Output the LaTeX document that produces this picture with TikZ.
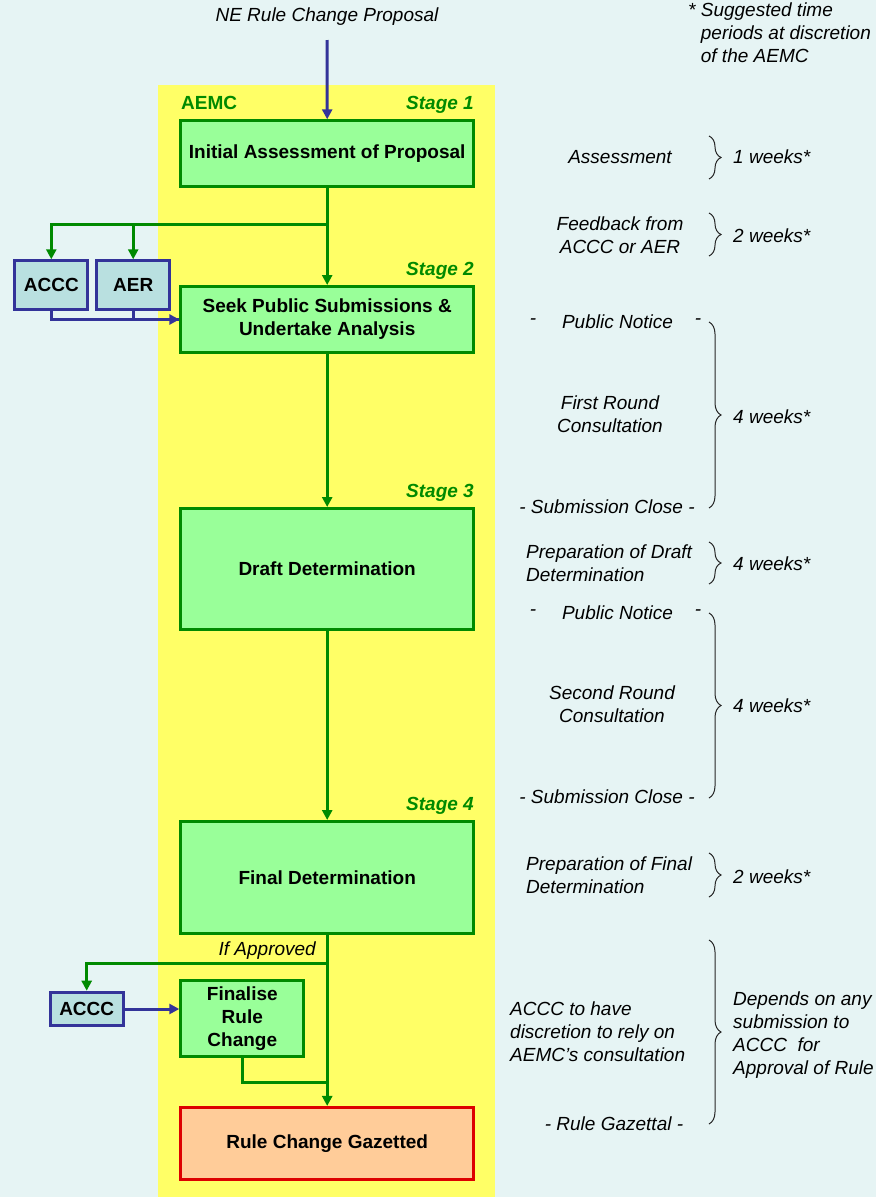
\documentclass[tikz,border=0pt]{standalone}
\usepackage{fontspec}
\setmainfont{Liberation Sans}
\usetikzlibrary{arrows.meta,decorations.pathreplacing}
\definecolor{bgc}{HTML}{E6F4F4}
\definecolor{yel}{HTML}{FFFF66}
\definecolor{gfill}{HTML}{99FF99}
\definecolor{gline}{HTML}{008A00}
\definecolor{bfill}{HTML}{B9E0E0}
\definecolor{bline}{HTML}{333399}
\definecolor{ofill}{HTML}{FFCC99}
\definecolor{oline}{HTML}{DD0000}
\definecolor{stagec}{HTML}{008A00}
\newcommand{\fs}{\fontsize{19}{23}\selectfont}
\begin{document}
\begin{tikzpicture}[x=1pt,y=-1pt,
  gbox/.style={draw=gline, fill=gfill, line width=3pt, inner sep=0pt, font=\bfseries\fs, align=center},
  bbox/.style={draw=bline, fill=bfill, line width=3pt, inner sep=0pt, font=\bfseries\fs, align=center},
  obox/.style={draw=oline, fill=ofill, line width=3pt, inner sep=0pt, font=\bfseries\fs, align=center},
  gl/.style={draw=gline, line width=3pt},
  ga/.style={gl, -{Triangle[length=10pt,width=10pt]}},
  bl/.style={draw=bline, line width=3pt},
  ba/.style={bl, -{Triangle[length=10pt,width=10pt]}},
  rt/.style={font=\itshape\fs, inner sep=0pt, align=center},
  rtl/.style={font=\itshape\fs, inner sep=0pt, align=left},
  stagel/.style={font=\bfseries\itshape\fs, text=stagec, inner sep=0pt},
  br/.style={decorate, decoration={brace, amplitude=12pt}, line width=1pt, draw=black!85}
]
\useasboundingbox (0,0) rectangle (876,1197);
\fill[bgc] (0,0) rectangle (876,1197);
\fill[yel] (158,85) rectangle (495,1197);

% main boxes
\node[gbox, minimum width=292.7, minimum height=66] (init) at (327.2,153.8) {Initial Assessment of Proposal};
\node[gbox, minimum width=292.7, minimum height=66] (seek) at (327.2,319.5) {Seek Public Submissions \&\\Undertake Analysis};
\node[gbox, minimum width=292.7, minimum height=121] (draft) at (327.2,569) {Draft Determination};
\node[gbox, minimum width=292.7, minimum height=112] (final) at (327.2,877.5) {Final Determination};
\node[obox, minimum width=292.7, minimum height=71.7] (gaz) at (327.2,1143.3) {Rule Change Gazetted};
\node[gbox, minimum width=123, minimum height=76.3] (fin) at (242.3,1018.3) {Finalise\\Rule\\Change};
\node[bbox, minimum width=73, minimum height=48.4] (accc1) at (51.3,285) {ACCC};
\node[bbox, minimum width=72.7, minimum height=48.4] (aer) at (133.2,285) {AER};
\node[bbox, minimum width=73, minimum height=33.6] (accc2) at (86.7,1009) {ACCC};

% labels
\node[font=\bfseries\fs, text=stagec, inner sep=0pt, anchor=west] (aemc) at (181,103) {AEMC};
\node[stagel, anchor=east] (s1) at (474,105) {Stage 1};
\node[stagel, anchor=east] (s2) at (474,271) {Stage 2};
\node[stagel, anchor=east] (s3) at (474,493) {Stage 3};
\node[stagel, anchor=east] (s4) at (474,806) {Stage 4};
\node[rt, anchor=east] (ifa) at (316,951) {If Approved};
\node[rt] (ne) at (327,17) {NE Rule Change Proposal};

% connectors
\coordinate (netop) at (327,40);
\draw[ba] (netop) -- (init.north);
\coordinate (b1) at (327.2,224);
\draw[ga] (init.south) -- (seek.north);
\draw[ga] (b1) -| (accc1.north);
\draw[ga] (b1) -| (aer.north);
\draw[ba] (accc1.south) |- (seek.west);
\draw[bl] (aer.south) |- (seek.west);
\draw[ga] (seek.south) -- (draft.north);
\draw[ga] (draft.south) -- (final.north);
\draw[ga] (final.south) -- (gaz.north);
\coordinate (b2) at (327.2,963.3);
\draw[ga] (b2) -| (accc2.north);
\draw[ba] (accc2.east) -- (accc2.east -| fin.west);
\coordinate (j2) at (327.2,1082.3);
\draw[gl] (fin.south) |- (j2);

% right-hand notes
\node[rtl, anchor=north west] (note) at (688,3) {*~Suggested time\\\hphantom{*~}periods at discretion\\\hphantom{*~}of the AEMC};

\node[rt] (t1) at (620,157) {Assessment};
\draw[br] (709,136) -- (709,179);
\node[rt, anchor=west] (w1) at (733,157) {1 weeks*};

\node[rt] (t2) at (620,235) {Feedback from\\ACCC or AER};
\draw[br] (709,213) -- (709,256);
\node[rt, anchor=west] (w2) at (733,236) {2 weeks*};

\node[rt] (pn1a) at (533,322) {-};
\node[rt] (pn1) at (617.5,322) {Public Notice};
\node[rt] (pn1b) at (698,322) {-};
\node[rt] (t3) at (610,414) {First Round\\Consultation};
\node[rt] (sc1) at (607,507) {- Submission Close -};
\draw[br] (709,322) -- (709,508);
\node[rt, anchor=west] (w3) at (733,417) {4 weeks*};

\node[rtl, anchor=west] (t4) at (526,563) {Preparation of Draft\\Determination};
\draw[br] (709,542) -- (709,584);
\node[rt, anchor=west] (w4) at (733,564) {4 weeks*};

\node[rt] (pn2a) at (533,613) {-};
\node[rt] (pn2) at (617.5,613) {Public Notice};
\node[rt] (pn2b) at (698,613) {-};
\node[rt] (t5) at (612,704) {Second Round\\Consultation};
\node[rt] (sc2) at (607,797) {- Submission Close -};
\draw[br] (709,613) -- (709,798);
\node[rt, anchor=west] (w5) at (733,706) {4 weeks*};

\node[rtl, anchor=west] (t6) at (526,875) {Preparation of Final\\Determination};
\draw[br] (709,853) -- (709,897);
\node[rt, anchor=west] (w6) at (733,877) {2 weeks*};

\node[rtl, anchor=west] (t7) at (510,1032) {ACCC to have\\discretion to rely on\\AEMC’s consultation};
\draw[br] (709,940) -- (709,1124);
\node[rtl, anchor=west] (w7) at (733,1035) {Depends on any\\submission to\\ACCC~ for\\Approval of Rule};
\node[rt] (rg) at (614,1124) {- Rule Gazettal -};
\end{tikzpicture}
\end{document}
